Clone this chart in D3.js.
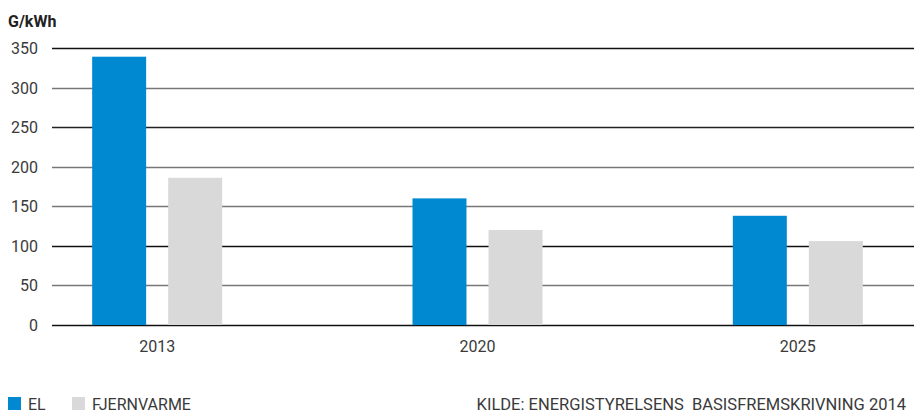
<!DOCTYPE html>
<html>
<head>
<meta charset="utf-8">
<script src="https://cdn.jsdelivr.net/npm/d3@7"></script>
<style>
  body { margin: 0; background: #fff; }
  text { font-family: Roboto, "Noto Sans", sans-serif; fill: #3a3a3a; }
</style>
</head>
<body>
<div id="chart"></div>
<script>
// data
var years = ["2013", "2020", "2025"];
var series = ["EL", "FJERNVARME"];
var elValues = [339, 160, 138];
var fjernvarmeValues = [186, 120, 106];
var yTicks = [0, 50, 100, 150, 200, 250, 300, 350];
var unitLabel = "G/kWh";
var sourceLabel = "KILDE: ENERGISTYRELSENS  BASISFREMSKRIVNING 2014";

var width = 914, height = 412;
var colors = { "EL": "#0089d1", "FJERNVARME": "#d9d9d9" };

var svg = d3.select("#chart").append("svg")
    .attr("width", width)
    .attr("height", height);

var y = d3.scaleLinear()
    .domain([0, 350])
    .range([325, 48]);

var x = d3.scaleBand()
    .domain(years)
    .range([-3, 958]);

var xInner = d3.scaleBand()
    .domain(series)
    .range([-65, 65])
    .paddingInner(0.29);

// gridlines, alternating tones like the original
var lineColor = { 0: "#111", 50: "#777", 100: "#111", 150: "#777", 200: "#777", 250: "#222", 300: "#777", 350: "#111" };

svg.append("g")
    .selectAll("line")
    .data(yTicks)
    .enter().append("line")
    .attr("x1", 52)
    .attr("x2", width)
    .attr("y1", function(d) { return Math.round(y(d)) + 0.5; })
    .attr("y2", function(d) { return Math.round(y(d)) + 0.5; })
    .attr("stroke", function(d) { return lineColor[d]; })
    .attr("stroke-width", 1.4);

svg.append("g")
    .selectAll("text")
    .data(yTicks)
    .enter().append("text")
    .attr("x", 38)
    .attr("y", function(d) { return y(d) + 6; })
    .attr("text-anchor", "end")
    .style("font-size", "16px")
    .text(function(d) { return d; });

svg.append("text")
    .attr("x", 8)
    .attr("y", 27)
    .style("font-size", "16px")
    .style("font-weight", "bold")
    .style("fill", "#222")
    .text(unitLabel);

// bars
var rows = years.map(function(yr, i) {
  return { year: yr, values: [ { key: "EL", value: elValues[i] }, { key: "FJERNVARME", value: fjernvarmeValues[i] } ] };
});

var groups = svg.append("g")
    .selectAll("g")
    .data(rows)
    .enter().append("g")
    .attr("transform", function(d) { return "translate(" + (x(d.year) + x.bandwidth() / 2) + ",0)"; });

groups.selectAll("rect")
    .data(function(d) { return d.values; })
    .enter().append("rect")
    .attr("x", function(d) { return xInner(d.key); })
    .attr("width", xInner.bandwidth())
    .attr("y", function(d) { return y(d.value); })
    .attr("height", function(d) { return y(0) - y(d.value); })
    .attr("fill", function(d) { return colors[d.key]; });

groups.append("text")
    .attr("y", 352)
    .attr("text-anchor", "middle")
    .style("font-size", "16px")
    .text(function(d) { return d.year; });

// legend
var legend = svg.append("g")
    .selectAll("g")
    .data(series)
    .enter().append("g")
    .attr("transform", function(d, i) { return "translate(" + (8 + i * 64) + ",397)"; });

legend.append("rect")
    .attr("width", 13)
    .attr("height", 13)
    .attr("fill", function(d) { return colors[d]; });

legend.append("text")
    .attr("x", 20)
    .attr("y", 12.5)
    .style("font-size", "16px")
    .text(function(d) { return d; });

svg.append("text")
    .attr("x", 906)
    .attr("y", 409.5)
    .attr("text-anchor", "end")
    .style("font-size", "16.5px")
    .style("white-space", "pre")
    .text(sourceLabel);
</script>
</body>
</html>
